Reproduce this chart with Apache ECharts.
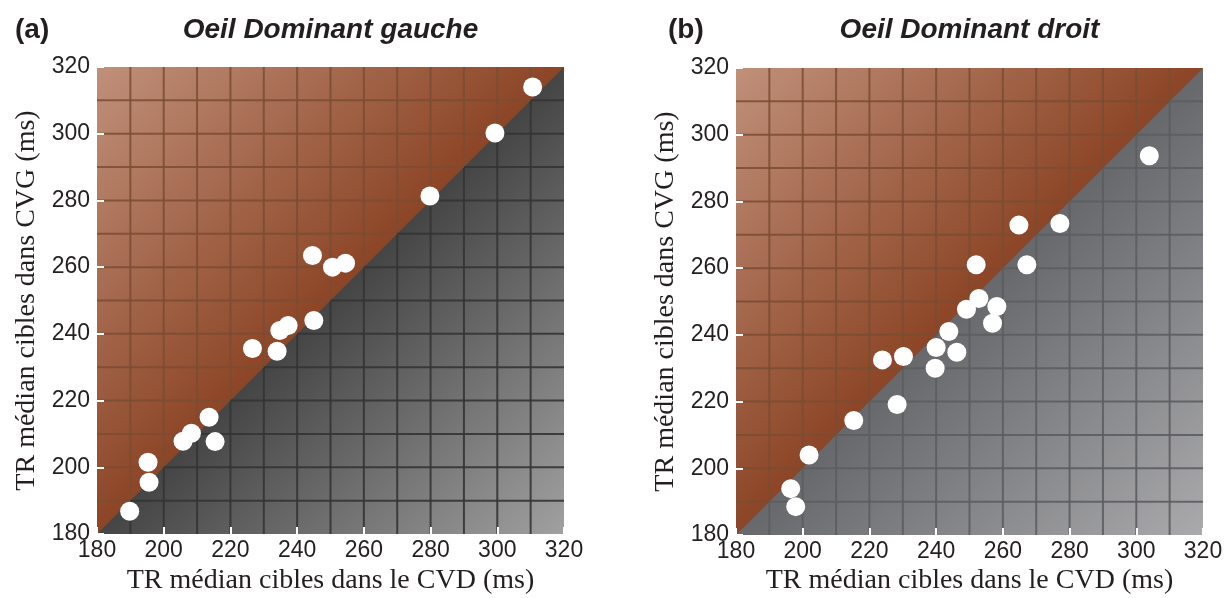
<!DOCTYPE html>
<html><head><meta charset="utf-8">
<script src="https://cdn.jsdelivr.net/npm/echarts@6/dist/echarts.min.js"></script>
<style>html,body{margin:0;padding:0;background:#fff}#c{width:1229px;height:598px}</style>
</head><body><div id="c"></div><script>
// ---- data ----
const tickValues = [180, 200, 220, 240, 260, 280, 300, 320];
const gridStep = 10;
const panelTitles = ['Oeil Dominant gauche', 'Oeil Dominant droit'];
const panelLetters = ['(a)', '(b)'];
const xAxisName = 'TR médian cibles dans le CVD (ms)';
const yAxisName = 'TR médian cibles dans CVG (ms)';
const gaucheCVD = [189.8, 195.3, 195.6, 205.8, 208.3, 213.6, 215.4, 226.6, 234.0, 234.8, 237.3, 244.6, 245.0, 250.6, 254.5, 279.8, 299.3, 310.6];
const gaucheCVG = [186.8, 201.5, 195.5, 207.8, 210.2, 215.0, 207.7, 235.6, 234.8, 241.0, 242.5, 263.5, 244.0, 260.0, 261.2, 281.3, 300.2, 314.0];
const droitCVD = [196.4, 197.9, 201.9, 215.3, 223.9, 230.2, 228.3, 239.7, 240.0, 243.8, 246.2, 249.1, 252.8, 252.0, 258.2, 256.9, 264.8, 267.2, 277.1, 303.9];
const droitCVG = [193.9, 188.5, 204.0, 214.3, 232.5, 233.5, 219.1, 230.0, 236.2, 241.0, 234.8, 247.7, 250.9, 261.0, 248.5, 243.5, 272.9, 261.0, 273.4, 293.7];

// ---- styling ----
const themes = [
  {brownLight:'#c0907a', brownDark:'#8c4526', greyDark:'#454545', greyLight:'#a0a0a0',
   brownLine:'rgba(122,76,50,0.85)', greyLine:'rgba(52,52,52,0.9)'},
  {brownLight:'#c0907a', brownDark:'#8c4526', greyDark:'#67686c', greyLight:'#aaaaac',
   brownLine:'rgba(122,76,50,0.85)', greyLine:'rgba(92,93,97,0.9)'}
];
const grids = [
  {left:97, top:67, width:467, height:467},
  {left:736, top:68, width:467, height:467}
];
const textColor = '#231f20';

function makeBackground(theme){
  return function(params, api){
    const lo = tickValues[0], hi = tickValues[tickValues.length-1];
    const c = p => api.coord(p);
    const line = (a, b, col) => ({type:'line', shape:{x1:a[0], y1:a[1], x2:b[0], y2:b[1]},
      style:{stroke:col, lineWidth:2}});
    const children = [];
    children.push({type:'polygon', shape:{points:[c([lo,lo]), c([hi,lo]), c([hi,hi]), c([lo,hi])]},
      style:{fill:new echarts.graphic.LinearGradient(0.5,0.5,1,1,[{offset:0,color:theme.greyDark},{offset:1,color:theme.greyLight}])}});
    children.push({type:'polygon', shape:{points:[c([lo,lo]), c([lo,hi]), c([hi,hi])]},
      style:{fill:new echarts.graphic.LinearGradient(0,0,0.5,0.5,[{offset:0,color:theme.brownLight},{offset:1,color:theme.brownDark}])}});
    for (let v = lo + gridStep; v < hi; v += gridStep) {
      children.push(line(c([v,lo]), c([v,v]), theme.greyLine));
      children.push(line(c([v,v]), c([v,hi]), theme.brownLine));
      children.push(line(c([lo,v]), c([v,v]), theme.brownLine));
      children.push(line(c([v,v]), c([hi,v]), theme.greyLine));
    }
    return {type:'group', children};
  };
}

function axisCommon(margin){
  return {
    type:'value', min:tickValues[0], max:tickValues[tickValues.length-1], interval:20,
    axisLine:{show:false}, splitLine:{show:false},
    axisTick:{show:true, inside:true, length:7, lineStyle:{color:'#ffffff', width:2}},
    axisLabel:{fontFamily:'Liberation Sans', fontSize:23, color:textColor, margin:margin},
    z:10
  };
}

const xAxes = grids.map((g,i)=>Object.assign(axisCommon(5), {gridIndex:i}));
const yAxes = grids.map((g,i)=>Object.assign(axisCommon(7), {gridIndex:i}));

const pointSets = [[gaucheCVD, gaucheCVG], [droitCVD, droitCVG]];
const series = [];
pointSets.forEach((ps, i) => {
  series.push({type:'custom', xAxisIndex:i, yAxisIndex:i, z:1, silent:true, clip:false,
    renderItem:makeBackground(themes[i]), data:[[tickValues[0], tickValues[0]]]});
  series.push({type:'scatter', xAxisIndex:i, yAxisIndex:i, z:20, symbolSize:19,
    itemStyle:{color:'#ffffff', opacity:1}, silent:true,
    data:ps[0].map((x,k)=>[x, ps[1][k]])});
});

const graphics = [];
grids.forEach((g,i)=>{
  const cx = g.left + g.width/2;
  graphics.push({type:'text', x:[15,668][i], y:30, style:{text:panelLetters[i], font:'bold 28px "Liberation Sans"', fill:textColor, align:'left', verticalAlign:'middle', textAlign:'left', textVerticalAlign:'middle'}});
  graphics.push({type:'text', x:cx, y:30, style:{text:panelTitles[i], font:'italic bold 28px "Liberation Sans"', fill:textColor, align:'center', verticalAlign:'middle', textAlign:'center', textVerticalAlign:'middle'}});
  graphics.push({type:'text', x:cx, y:581, style:{text:xAxisName, font:'28px "Liberation Serif"', fill:textColor, align:'center', verticalAlign:'middle', textAlign:'center', textVerticalAlign:'middle'}});
  graphics.push({type:'text', x:g.left-70, y:g.top+g.height/2, rotation:Math.PI/2, style:{text:yAxisName, font:'28px "Liberation Serif"', fill:textColor, align:'center', verticalAlign:'middle', textAlign:'center', textVerticalAlign:'middle'}});
});

const chart = echarts.init(document.getElementById('c'), null, {renderer:'canvas'});
chart.setOption({
  animation:false,
  backgroundColor:'#ffffff',
  grid:grids,
  xAxis:xAxes,
  yAxis:yAxes,
  series:series,
  graphic:graphics
});
</script></body></html>
